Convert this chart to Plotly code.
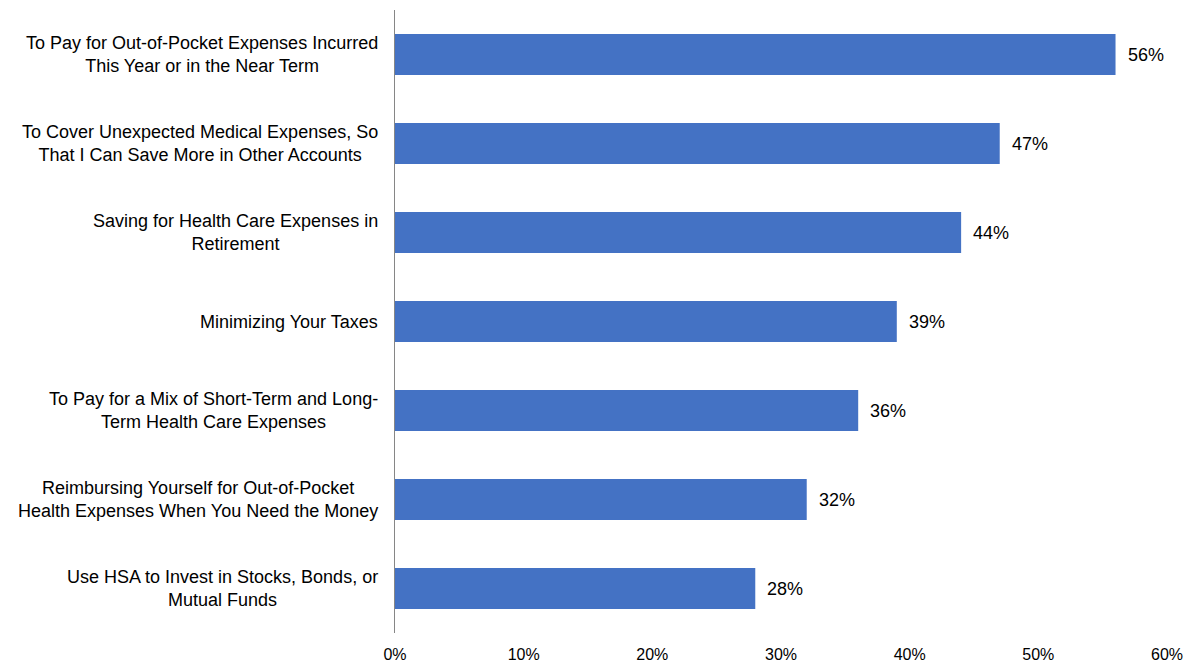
import plotly.graph_objects as go

categories = [
    "To Pay for Out-of-Pocket Expenses Incurred<br>This Year or in the Near Term",
    "To Cover Unexpected Medical Expenses, So<br>That I Can Save More in Other Accounts",
    "Saving for Health Care Expenses in<br>Retirement",
    "Minimizing Your Taxes",
    "To Pay for a Mix of Short-Term and Long-<br>Term Health Care Expenses",
    "Reimbursing Yourself for Out-of-Pocket<br>Health Expenses When You Need the Money",
    "Use HSA to Invest in Stocks, Bonds, or<br>Mutual Funds",
]
values = [0.56, 0.47, 0.44, 0.39, 0.36, 0.32, 0.28]
tick_vals = [0, 0.1, 0.2, 0.3, 0.4, 0.5, 0.6]
tick_text = ["0%", "10%", "20%", "30%", "40%", "50%", "60%"]

font_family = "Liberation Sans, Arial, sans-serif"

fig = go.Figure(go.Bar(
    x=values, y=categories, orientation="h",
    marker=dict(color="#4472C4", line=dict(width=0)),
    hoverinfo="skip",
))

annotations = []
for c, v in zip(categories, values):
    annotations.append(dict(
        x=v, y=c, xref="x", yref="y", text=f"{round(v*100)}%",
        showarrow=False, xanchor="left", xshift=10,
        font=dict(size=18, color="#000000", family=font_family),
    ))
    annotations.append(dict(
        x=0, y=c, xref="paper", yref="y", text=c,
        showarrow=False, xanchor="right", xshift=-15, align="center",
        font=dict(size=18, color="#000000", family=font_family),
    ))

fig.update_layout(
    width=1192, height=664,
    margin=dict(l=395, r=25, t=10, b=31),
    paper_bgcolor="white", plot_bgcolor="white",
    bargap=0.54,
    showlegend=False,
    annotations=annotations,
    font=dict(family=font_family, size=16, color="#000000"),
    xaxis=dict(
        range=[0, 0.6], tickvals=tick_vals, ticktext=tick_text,
        showgrid=False, zeroline=False, showline=False, ticks="",
        ticklabelstandoff=10, automargin=False,
        tickfont=dict(size=16, color="#000000", family=font_family),
    ),
    yaxis=dict(
        autorange="reversed", showticklabels=False, showgrid=False,
        zeroline=False, showline=True, linecolor="#868686", linewidth=1,
        ticks="", automargin=False,
    ),
)

fig.write_html("out.html")
